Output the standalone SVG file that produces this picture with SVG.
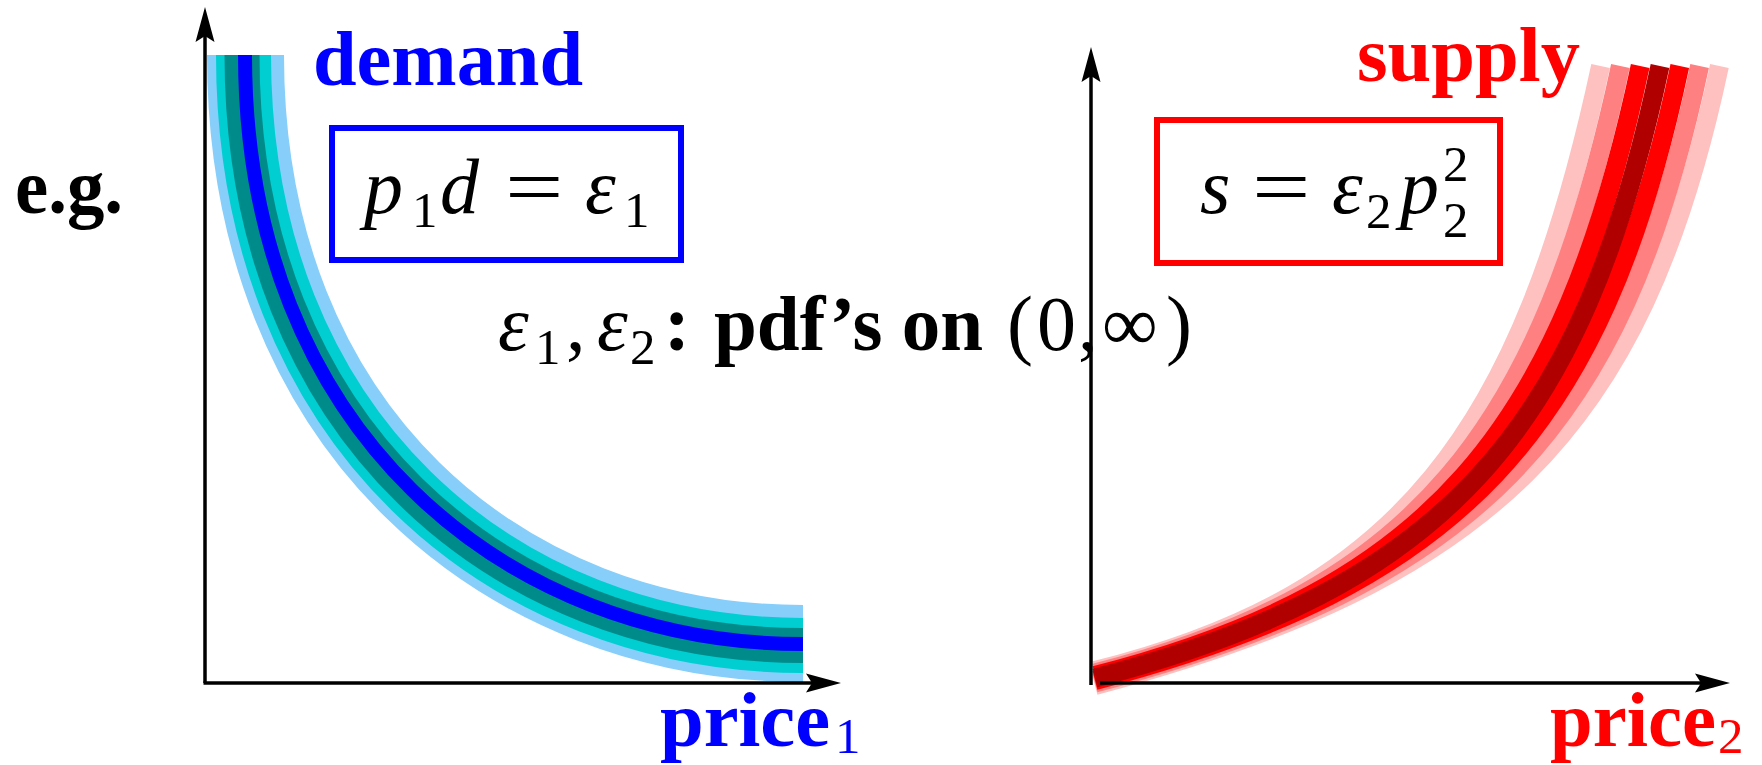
<svg xmlns="http://www.w3.org/2000/svg" width="1762" height="765" viewBox="0 0 1762 765">
  <style>
    .bd { font-family: "Liberation Serif", "Times New Roman", serif; font-weight: bold; font-size: 78px; }
    .mi { font-family: "Liberation Serif", "Times New Roman", serif; font-style: italic; font-size: 78px; fill: #000; }
    .rm { font-family: "Liberation Serif", "Times New Roman", serif; font-size: 78px; fill: #000; }
    .sub { font-family: "Liberation Serif", "Times New Roman", serif; font-size: 51px; }
    .axis { stroke: #000; stroke-width: 3.5; fill: none; }
    .band { fill: none; stroke-linecap: butt; }
    .lb { stroke: #87cefa; stroke-width: 77; }
    .cy { stroke: #00ced1; stroke-width: 55; }
    .tl { stroke: #008b8b; stroke-width: 35; }
    .bl { stroke: #0000ff; stroke-width: 14; }
    .sr { stroke-width: 19; }
    .lp { stroke: #ffc0c0; }
    .sa { stroke: #ff8080; }
    .rd { stroke: #ff0000; }
    .dr { stroke: #b00000; }
    .box { fill: none; stroke-width: 6; }
  </style>
  <defs>
    <path id="ah" d="M0,0 L-35,-9.5 L-29,0 L-35,9.5 Z" fill="#000"/>
  </defs>

  <!-- demand curve bands -->
  <g id="demand-curve">
    <path class="band lb" d="M245.5,55 C245.5,430 505,643.5 803,643.5"/>
    <path class="band cy" d="M243.5,55 C243.5,430 504,645.5 803,645.5"/>
    <path class="band tl" d="M242,55 C242,430 503,645.5 803,645.5"/>
    <path class="band bl" d="M245,55 C245,430 505,644 803,644"/>
  </g>

  <!-- supply curve bands -->
  <g id="supply-curve">
    <path class="band sr lp" d="M1095,670.5 C1400,594 1522,432 1600.6,66"/>
    <path class="band sr lp" d="M1095,685.5 C1490,580 1642,432 1719.4,66"/>
    <path class="band sr sa" d="M1095,673 C1415,591 1542,432 1620.4,66"/>
    <path class="band sr sa" d="M1095,683 C1475,583 1622,432 1699.6,66"/>
    <path class="band sr rd" d="M1095,675.5 C1430,589 1562,432 1640.2,66"/>
    <path class="band sr rd" d="M1095,680.5 C1460,585 1602,432 1679.8,66"/>
    <path class="band sr dr" d="M1095,678 C1445,587 1582,432 1660,66"/>
  </g>

  <!-- axes -->
  <g id="connectors">
    <line class="axis" x1="205" y1="683" x2="205" y2="32"/>
    <line class="axis" x1="203.5" y1="683" x2="815" y2="683"/>
    <use href="#ah" transform="translate(205,7) rotate(-90)"/>
    <use href="#ah" transform="translate(841,683)"/>
    <line class="axis" x1="1091" y1="685" x2="1091" y2="72"/>
    <line class="axis" x1="1100" y1="683" x2="1705" y2="683"/>
    <use href="#ah" transform="translate(1091,47) rotate(-90)"/>
    <use href="#ah" transform="translate(1730,683)"/>
  </g>

  <g id="label-eg">
    <text class="bd" x="15" y="213" fill="#000" textLength="108" lengthAdjust="spacingAndGlyphs">e.g.</text>
  </g>

  <g id="label-demand">
    <text class="bd" x="313" y="85" fill="#0000ff" textLength="270" lengthAdjust="spacingAndGlyphs">demand</text>
  </g>

  <g id="label-supply">
    <text class="bd" x="1357" y="81" fill="#ff0000" textLength="223" lengthAdjust="spacingAndGlyphs">supply</text>
  </g>

  <g id="demand-box">
    <rect class="box" x="332" y="128" width="349" height="132" stroke="#0000ff"/>
    <text class="mi" x="364" y="213">p</text>
    <text class="sub" x="412" y="227" fill="#000">1</text>
    <text class="mi" x="440" y="213">d</text>
    <text class="rm" transform="translate(505,213) scale(1.33,1)" x="0" y="0">=</text>
    <text class="mi" x="585" y="213">ε</text>
    <text class="sub" x="624" y="227" fill="#000">1</text>
  </g>

  <g id="supply-box">
    <rect class="box" x="1157" y="120" width="343" height="143" stroke="#ff0000"/>
    <text class="mi" x="1200" y="213">s</text>
    <text class="rm" transform="translate(1252,213) scale(1.33,1)" x="0" y="0">=</text>
    <text class="mi" x="1332" y="213">ε</text>
    <text class="sub" x="1366" y="228" fill="#000">2</text>
    <text class="mi" x="1400" y="213">p</text>
    <text class="sub" x="1443" y="181" fill="#000">2</text>
    <text class="sub" x="1443" y="237" fill="#000">2</text>
  </g>

  <g id="pdf-note">
    <text class="mi" x="498" y="350">ε</text>
    <text class="sub" x="535" y="364" fill="#000">1</text>
    <text class="rm" x="566" y="350">,</text>
    <text class="mi" x="597" y="350">ε</text>
    <text class="sub" x="630" y="364" fill="#000">2</text>
    <text class="bd" x="664" y="350" fill="#000">:</text>
    <text class="bd" x="714" y="350" fill="#000" textLength="269" lengthAdjust="spacingAndGlyphs">pdf’s on</text>
    <text class="rm" x="1007" y="350">(</text>
    <text class="rm" x="1037" y="350">0</text>
    <text class="rm" x="1078" y="350">,</text>
    <text class="rm" x="1102" y="350">∞</text>
    <text class="rm" x="1166" y="350">)</text>
  </g>

  <g id="label-price1">
    <text class="bd" x="660" y="746" fill="#0000ff" textLength="170" lengthAdjust="spacingAndGlyphs">price</text>
    <text class="sub" x="835" y="753" fill="#0000ff">1</text>
  </g>

  <g id="label-price2">
    <text class="bd" x="1550" y="746" fill="#ff0000" textLength="166" lengthAdjust="spacingAndGlyphs">price</text>
    <text class="sub" x="1718" y="753" fill="#ff0000">2</text>
  </g>
</svg>
